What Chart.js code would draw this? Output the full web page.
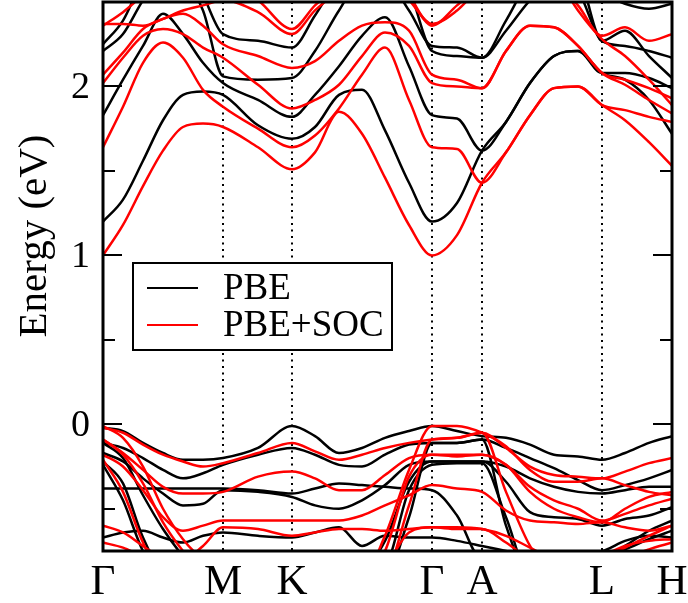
<!DOCTYPE html>
<html>
<head>
<meta charset="utf-8">
<script src="https://cdn.jsdelivr.net/npm/chart.js@4/dist/chart.umd.min.js"></script>
<style>
  html, body { margin: 0; padding: 0; background: #fff; }
</style>
</head>
<body>
<canvas id="bands" width="688" height="603"></canvas>
<script>
// k-path distance (arbitrary units) and high-symmetry points
const kPath = [0, 20, 40, 60, 80, 100, 120, 155, 189, 212, 236, 259, 282, 306, 329, 354, 379, 403, 427, 451, 475, 499, 522, 546, 569];
const symPoints = [0, 120, 189, 329, 379, 499, 569];
const symLabels = ["Γ", "M", "K", "Γ", "A", "L", "H"];
const energyTicks = [0, 1, 2];
const minorTicks = [-0.5, 0.5, 1.5];

// PBE bands (eV)
const pbeC1 = [1.20, 1.33, 1.56, 1.80, 1.95, 1.97, 1.95, 1.77, 1.69, 1.76, 1.95, 1.98, 1.74, 1.43, 1.20, 1.31, 1.62, 1.79, 2.02, 2.18, 2.21, 2.08, 2.04, 1.92, 1.72];
const pbeC2 = [1.83, 2.04, 2.24, 2.43, 2.31, 2.14, 2.02, 1.92, 1.82, 1.95, 2.12, 2.30, 2.41, 2.12, 1.83, 1.81, 1.62, 1.79, 2.02, 2.18, 2.21, 2.08, 2.08, 2.05, 1.99];
const pbeC3 = [2.21, 2.31, 2.51, 2.66, 2.63, 2.45, 2.06, 2.04, 2.05, 2.21, 2.45, 2.63, 2.63, 2.45, 2.24, 2.23, 2.17, 2.39, 2.63, 2.69, 2.57, 2.27, 2.24, 2.21, 2.17];
const pbeC4 = [2.25, 2.39, 2.63, 2.75, 2.75, 2.54, 2.31, 2.27, 2.23, 2.42, 2.63, 2.69, 2.69, 2.57, 2.21, 2.18, 2.17, 2.33, 2.51, 2.63, 2.63, 2.27, 2.33, 2.18, 2.05];
const pbeC5 = [2.80, 2.80, 2.80, 2.80, 2.80, 2.80, 2.80, 2.80, 2.80, 2.80, 2.80, 2.80, 2.80, 2.80, 2.80, 2.80, 2.80, 2.75, 2.70, 2.65, 2.60, 2.55, 2.49, 2.46, 2.49];
const pbeV1 = [-0.02, -0.04, -0.11, -0.17, -0.21, -0.21, -0.20, -0.14, -0.01, -0.07, -0.17, -0.14, -0.08, -0.04, -0.01, -0.04, -0.07, -0.08, -0.12, -0.18, -0.19, -0.21, -0.17, -0.11, -0.07];
const pbeV2 = [-0.11, -0.14, -0.20, -0.27, -0.32, -0.29, -0.24, -0.18, -0.14, -0.18, -0.24, -0.25, -0.18, -0.12, -0.11, -0.11, -0.09, -0.14, -0.20, -0.26, -0.33, -0.39, -0.36, -0.32, -0.27];
const pbeV3 = [-0.17, -0.22, -0.32, -0.41, -0.48, -0.47, -0.39, -0.40, -0.43, -0.48, -0.50, -0.45, -0.36, -0.24, -0.22, -0.22, -0.22, -0.34, -0.52, -0.55, -0.56, -0.60, -0.56, -0.54, -0.49];
const pbeV4 = [-0.38, -0.38, -0.38, -0.38, -0.38, -0.38, -0.38, -0.39, -0.41, -0.38, -0.35, -0.36, -0.37, -0.38, -0.39, -0.54, -0.80, -0.80, -0.80, -0.80, -0.80, -0.80, -0.72, -0.63, -0.57];
const pbeV5 = [-0.22, -0.35, -0.67, -0.86, -0.86, -0.86, -0.86, -0.86, -0.86, -0.86, -0.86, -0.86, -0.69, -0.34, -0.22, -0.22, -0.22, -0.25, -0.32, -0.37, -0.40, -0.41, -0.39, -0.37, -0.37];
const pbeV6 = [-0.67, -0.64, -0.63, -0.67, -0.70, -0.66, -0.64, -0.66, -0.67, -0.64, -0.61, -0.72, -0.66, -0.67, -0.67, -0.69, -0.72, -0.75, -0.78, -0.78, -0.76, -0.75, -0.69, -0.66, -0.67];
const pbeV7 = [-0.24, -0.45, -0.75, -0.90, -0.90, -0.90, -0.90, -0.90, -0.90, -0.90, -0.90, -0.90, -0.85, -0.39, -0.24, -0.23, -0.23, -0.55, -0.90, -0.90, -0.90, -0.78, -0.74, -0.68, -0.63];
const pbeV8 = [-0.11, -0.20, -0.42, -0.62, -0.78, -0.90, -0.90, -0.90, -0.90, -0.90, -0.90, -0.90, -0.90, -0.55, -0.11, -0.11, -0.09, -0.60, -0.90, -0.90, -0.90, -0.90, -0.85, -0.80, -0.76];

// PBE+SOC bands (eV)
const socC1 = [1.00, 1.18, 1.41, 1.62, 1.76, 1.78, 1.76, 1.64, 1.51, 1.61, 1.85, 1.72, 1.46, 1.18, 1.00, 1.12, 1.43, 1.61, 1.83, 1.99, 2.00, 1.89, 1.80, 1.67, 1.53];
const socC2 = [1.64, 1.88, 2.14, 2.26, 2.17, 1.98, 1.88, 1.75, 1.64, 1.71, 1.87, 2.07, 2.23, 1.92, 1.64, 1.63, 1.43, 1.61, 1.83, 1.99, 2.00, 1.89, 1.86, 1.82, 1.79];
const socC3 = [2.02, 2.17, 2.30, 2.34, 2.31, 2.23, 2.17, 2.01, 1.87, 1.92, 2.01, 2.18, 2.32, 2.24, 2.02, 2.00, 1.99, 2.21, 2.36, 2.35, 2.24, 2.08, 2.01, 1.92, 1.84];
const socC4 = [2.07, 2.20, 2.34, 2.40, 2.43, 2.36, 2.25, 2.18, 2.11, 2.15, 2.27, 2.36, 2.38, 2.33, 2.07, 2.04, 1.99, 2.21, 2.36, 2.35, 2.24, 2.08, 2.04, 1.99, 1.93];
const socC5 = [2.37, 2.37, 2.36, 2.40, 2.45, 2.48, 2.51, 2.44, 2.31, 2.45, 2.57, 2.69, 2.63, 2.51, 2.37, 2.45, 2.60, 2.69, 2.69, 2.63, 2.48, 2.30, 2.35, 2.27, 2.31];
const socC6 = [2.36, 2.44, 2.54, 2.63, 2.69, 2.69, 2.63, 2.51, 2.34, 2.48, 2.60, 2.72, 2.72, 2.54, 2.36, 2.48, 2.60, 2.72, 2.72, 2.66, 2.45, 2.28, 2.18, 2.04, 1.89];
const socV1 = [-0.02, -0.05, -0.12, -0.18, -0.22, -0.25, -0.23, -0.17, -0.11, -0.16, -0.21, -0.18, -0.14, -0.11, -0.09, -0.08, -0.05, -0.14, -0.25, -0.30, -0.31, -0.32, -0.28, -0.23, -0.20];
const socV2 = [-0.09, -0.17, -0.27, -0.37, -0.41, -0.41, -0.40, -0.31, -0.28, -0.32, -0.39, -0.39, -0.30, -0.20, -0.18, -0.19, -0.18, -0.24, -0.37, -0.45, -0.50, -0.57, -0.53, -0.48, -0.44];
const socV3 = [-0.18, -0.25, -0.39, -0.55, -0.63, -0.60, -0.57, -0.57, -0.57, -0.57, -0.57, -0.54, -0.48, -0.42, -0.36, -0.38, -0.40, -0.51, -0.57, -0.58, -0.59, -0.58, -0.61, -0.63, -0.60];
const socV4 = [-0.21, -0.40, -0.70, -0.90, -0.90, -0.90, -0.90, -0.90, -0.90, -0.90, -0.90, -0.90, -0.75, -0.31, -0.18, -0.18, -0.18, -0.24, -0.40, -0.50, -0.55, -0.58, -0.50, -0.43, -0.40];
const socV5 = [-0.60, -0.64, -0.72, -0.80, -0.86, -0.86, -0.86, -0.86, -0.86, -0.86, -0.86, -0.86, -0.83, -0.64, -0.61, -0.61, -0.62, -0.66, -0.73, -0.80, -0.83, -0.80, -0.73, -0.66, -0.60];
const socV6 = [-0.70, -0.73, -0.78, -0.80, -0.80, -0.72, -0.61, -0.62, -0.66, -0.64, -0.62, -0.62, -0.63, -0.62, -0.61, -0.62, -0.62, -0.70, -0.80, -0.85, -0.85, -0.78, -0.72, -0.69, -0.68];
const socV7 = [-0.01, -0.08, -0.25, -0.50, -0.68, -0.80, -0.86, -0.90, -0.90, -0.90, -0.90, -0.90, -0.66, -0.27, -0.01, -0.01, -0.05, -0.13, -0.27, -0.34, -0.34, -0.32, -0.36, -0.40, -0.42];
const socV8 = [-0.09, -0.18, -0.35, -0.58, -0.75, -0.88, -0.90, -0.90, -0.90, -0.90, -0.90, -0.90, -0.88, -0.48, -0.09, -0.08, -0.05, -0.40, -0.72, -0.90, -0.90, -0.90, -0.80, -0.74, -0.70];

const pbeBands = [pbeC1, pbeC2, pbeC3, pbeC4, pbeC5, pbeV1, pbeV2, pbeV3, pbeV4, pbeV5, pbeV6, pbeV7, pbeV8];
const socBands = [socC1, socC2, socC3, socC4, socC5, socC6, socV1, socV2, socV3, socV4, socV5, socV6, socV7, socV8];

const serif = '"Liberation Serif", "Times New Roman", serif';

function bandDataset(band, label, color) {
  return {
    label: label,
    data: band.map((e, i) => ({ x: kPath[i], y: e })),
    borderColor: color,
    borderWidth: 2.5,
    pointRadius: 0,
    fill: false,
    cubicInterpolationMode: "monotone",
  };
}

// red drawn last -> on top (chart.js paints dataset 0 last)
const datasets = [
  ...socBands.map((b, i) => bandDataset(b, i === 0 ? "PBE+SOC" : "", "#ff0000")),
  ...pbeBands.map((b, i) => bandDataset(b, i === 0 ? "PBE" : "", "#000000")),
];

const bandDecor = {
  id: "bandDecor",
  beforeDatasetsDraw(chart) {
    const { ctx, chartArea: a, scales } = chart;
    ctx.save();
    ctx.strokeStyle = "#000";
    ctx.lineWidth = 2;
    ctx.setLineDash([2, 4.5]);
    symPoints.slice(1, -1).forEach((k) => {
      const x = Math.round(scales.x.getPixelForValue(k));
      ctx.beginPath();
      ctx.moveTo(x, a.top);
      ctx.lineTo(x, a.bottom);
      ctx.stroke();
    });
    ctx.restore();
  },
  afterDraw(chart) {
    const { ctx, chartArea: a, scales } = chart;
    ctx.save();
    ctx.strokeStyle = "#000";
    ctx.fillStyle = "#000";

    // frame
    ctx.lineWidth = 3;
    ctx.strokeRect(a.left, a.top, a.right - a.left, a.bottom - a.top);

    // inward ticks on both sides
    ctx.lineWidth = 2;
    const tick = (v, len) => {
      const y = Math.round(scales.y.getPixelForValue(v));
      ctx.beginPath();
      ctx.moveTo(a.left, y); ctx.lineTo(a.left + len, y);
      ctx.moveTo(a.right, y); ctx.lineTo(a.right - len, y);
      ctx.stroke();
    };
    energyTicks.forEach((v) => tick(v, 19));
    minorTicks.forEach((v) => tick(v, 12));

    // y tick labels
    ctx.font = "38px " + serif;
    ctx.textAlign = "right";
    ctx.textBaseline = "middle";
    energyTicks.forEach((v) => {
      ctx.fillText(String(v), a.left - 13, scales.y.getPixelForValue(v) + 2);
    });

    // k-point labels
    ctx.font = "43px " + serif;
    ctx.textAlign = "center";
    ctx.textBaseline = "alphabetic";
    symPoints.forEach((k, i) => {
      ctx.fillText(symLabels[i], scales.x.getPixelForValue(k), 594);
    });

    // axis title
    ctx.save();
    ctx.translate(46, 236);
    ctx.rotate(-Math.PI / 2);
    ctx.font = "41px " + serif;
    ctx.textAlign = "center";
    ctx.fillText("Energy (eV)", 0, 0);
    ctx.restore();

    // legend
    ctx.lineWidth = 2;
    ctx.fillStyle = "#fff";
    ctx.fillRect(133, 263, 259, 87);
    ctx.strokeRect(133, 263, 259, 87);
    const entries = [["PBE", "#000000", 288], ["PBE+SOC", "#ff0000", 325]];
    ctx.font = "37px " + serif;
    ctx.textAlign = "left";
    ctx.textBaseline = "middle";
    entries.forEach(([txt, col, y]) => {
      ctx.strokeStyle = col;
      ctx.beginPath();
      ctx.moveTo(147, y); ctx.lineTo(198, y);
      ctx.stroke();
      ctx.fillStyle = "#000";
      ctx.fillText(txt, 223, y + 1);
    });
    ctx.restore();
  },
};

new Chart(document.getElementById("bands"), {
  type: "line",
  data: { datasets: datasets },
  options: {
    responsive: false,
    animation: false,
    devicePixelRatio: 1,
    layout: { padding: { left: 103, right: 16, top: 2, bottom: 52 } },
    plugins: { legend: { display: false }, tooltip: { enabled: false } },
    scales: {
      x: { type: "linear", min: 0, max: 569, display: false },
      y: { type: "linear", min: -0.75, max: 2.5, display: false },
    },
  },
  plugins: [bandDecor],
});
</script>
</body>
</html>
